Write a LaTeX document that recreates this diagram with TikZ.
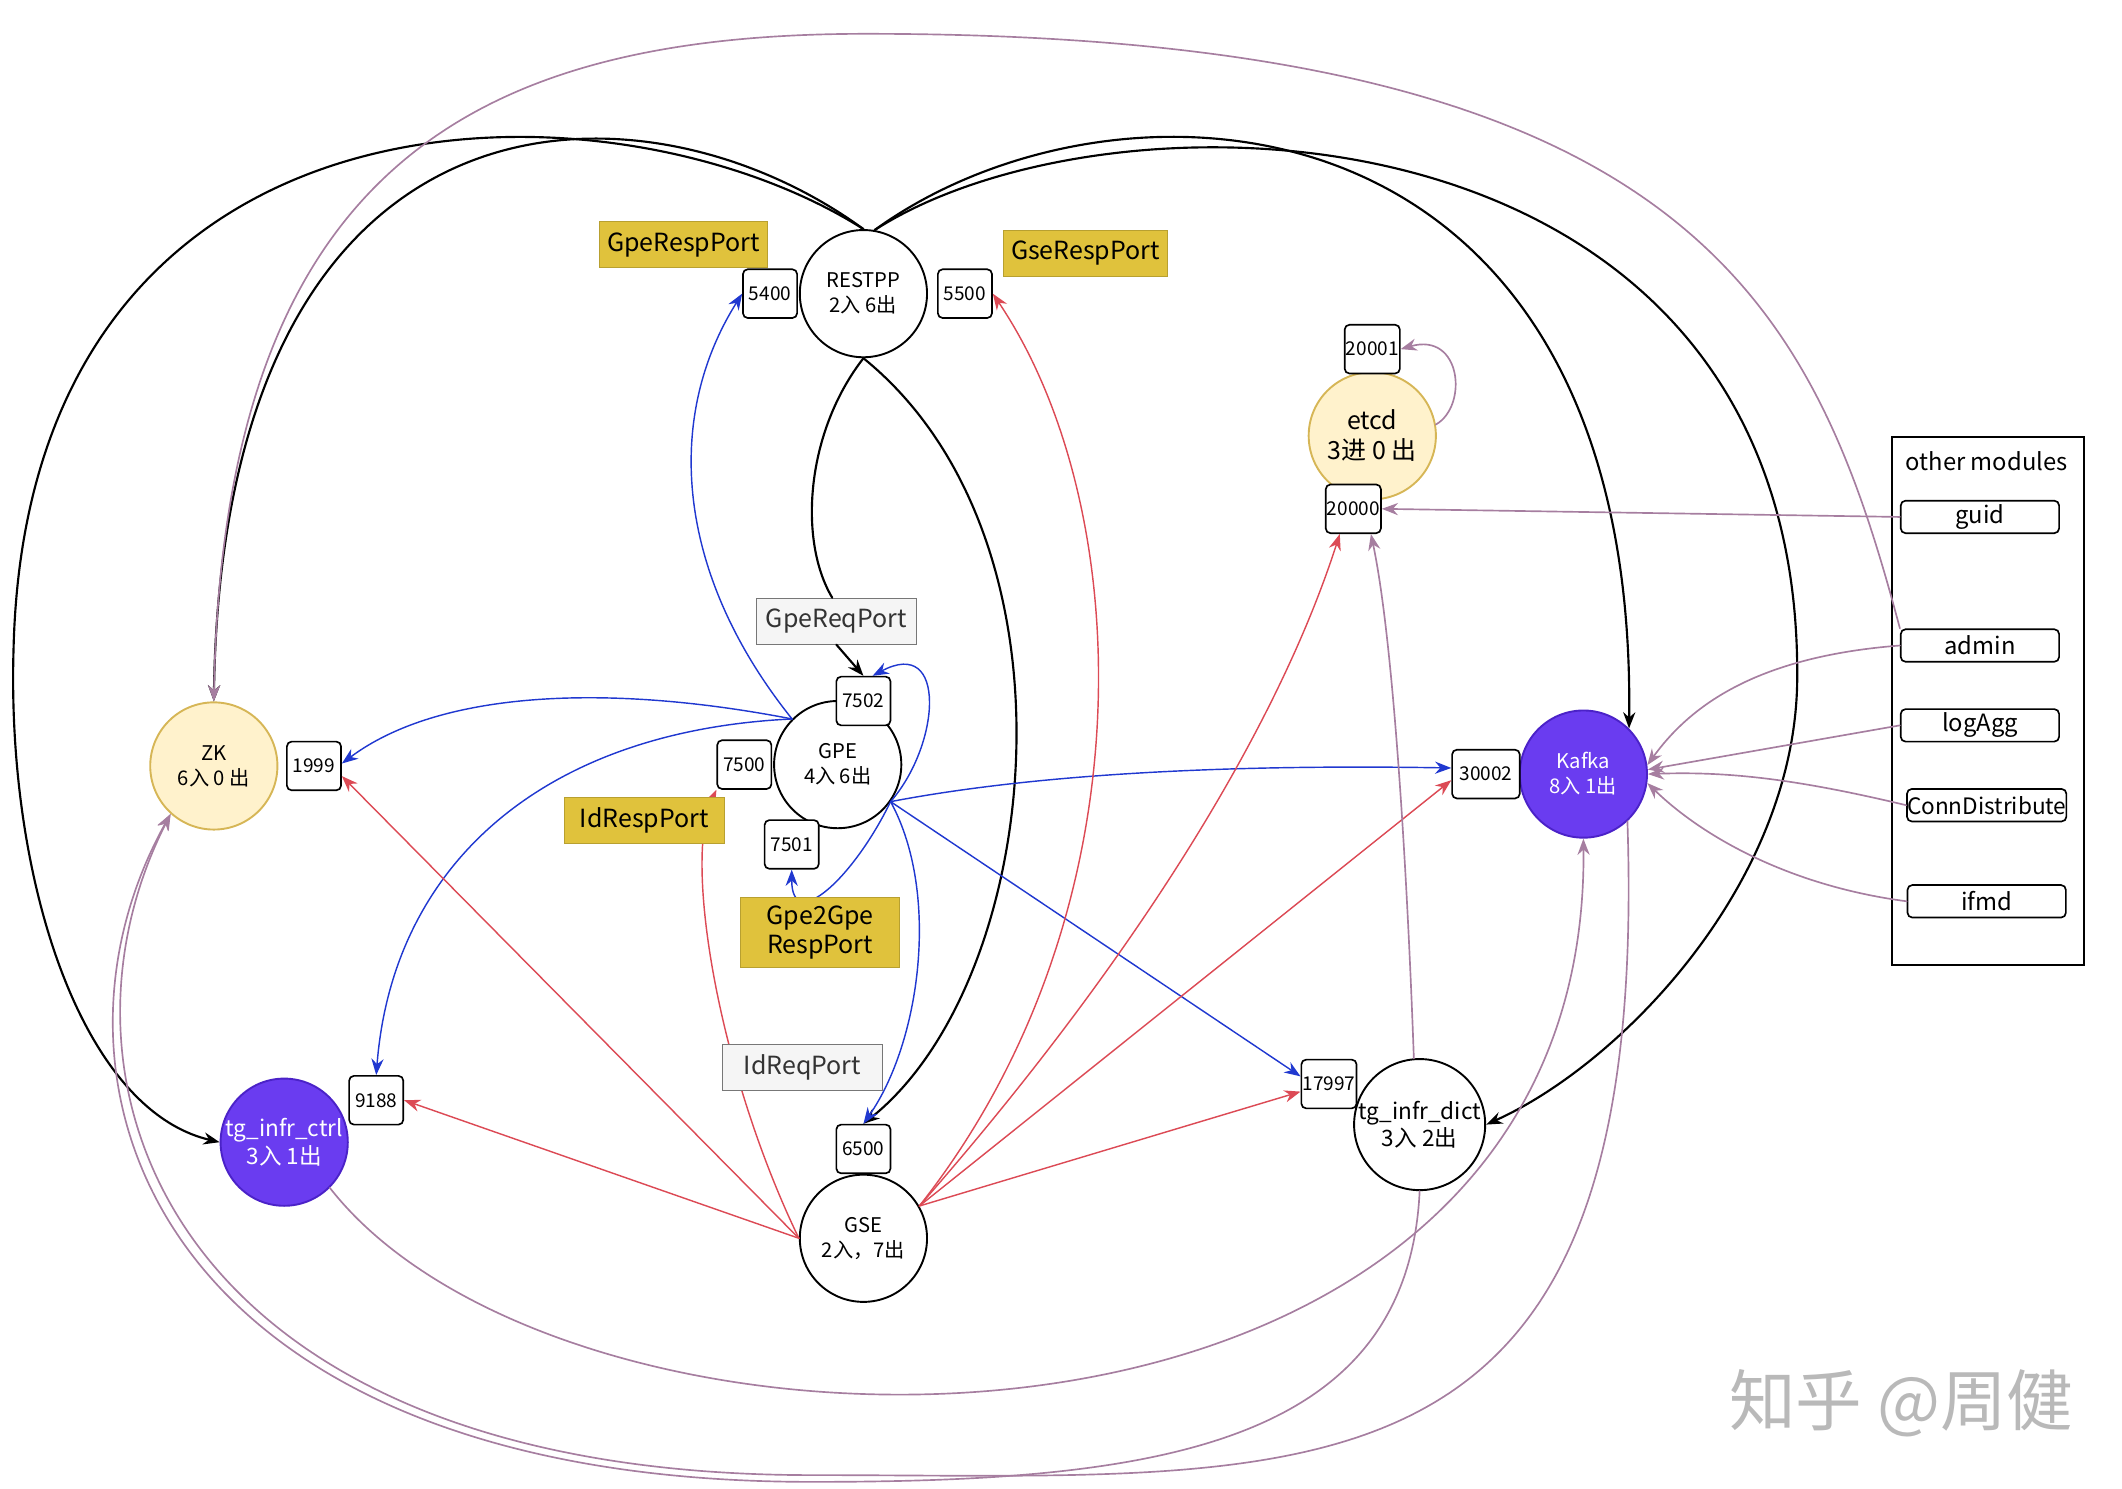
\documentclass[tikz,border=0pt]{standalone}
\usepackage{fontspec}
\setmainfont{Noto Sans CJK SC}
\usepackage{tikz}
\usetikzlibrary{arrows.meta}
\usepackage{xcolor}

\definecolor{zkfill}{HTML}{FFF2CC}
\definecolor{zkline}{HTML}{D6B656}
\definecolor{kpurple}{HTML}{6A3CF0}
\definecolor{kline}{HTML}{4B22C8}
\definecolor{gold}{HTML}{E0C23C}
\definecolor{goldline}{HTML}{B8A030}
\definecolor{reqfill}{HTML}{F5F5F5}
\definecolor{reqline}{HTML}{777777}
\definecolor{gpeblue}{HTML}{2038D0}
\definecolor{gsered}{HTML}{DC4A55}
\definecolor{modline}{HTML}{A67EA0}

\begin{document}
\begin{tikzpicture}[>={Stealth[length=2.4mm,width=1.8mm]},line cap=round,
  proc/.style={circle,draw,line width=0.8pt,fill=white,minimum size=1.88cm,inner sep=0pt,align=center,font=\fontsize{8.5}{10.5}\selectfont},
  store/.style={fill=zkfill,draw=zkline},
  hot/.style={fill=kpurple,draw=kline,text=white},
  port/.style={draw,rounded corners=2pt,fill=white,line width=0.7pt,minimum width=0.8cm,minimum height=0.72cm,inner sep=0.5pt,font=\fontsize{8}{9}\selectfont},
  resp/.style={draw=goldline,fill=gold,minimum width=2.36cm,minimum height=0.68cm,font=\fontsize{10.5}{12}\selectfont},
  req/.style={draw=reqline,fill=reqfill,text=black!80,minimum width=2.36cm,minimum height=0.68cm,font=\fontsize{10.5}{12}\selectfont},
  mod/.style={draw,rounded corners=2pt,line width=0.7pt,minimum width=2.34cm,minimum height=0.48cm,inner sep=0pt,font=\fontsize{10}{11}\selectfont},
  ctl/.style={->,line width=0.9pt},
  gpeflow/.style={->,draw=gpeblue,line width=0.6pt},
  gseflow/.style={->,draw=gsered,line width=0.6pt},
  modflow/.style={->,draw=modline,line width=0.7pt}]
\useasboundingbox (0,0) rectangle (31.36,22.0);

% processes
\node[proc] (restpp) at (12.76,17.66) {RESTPP\\2入 6出};
\node[proc] (gpe) at (12.38,10.70) {GPE\\4入 6出};
\node[proc] (gse) at (12.76,3.70) {GSE\\2入，7出};
\node[proc,store] (zk) at (3.16,10.68) {ZK\\6入 0 出};
\node[proc,store,font=\fontsize{10.5}{12.5}\selectfont] (etcd) at (20.28,15.56) {etcd\\3进 0 出};
\node[proc,hot] (kafka) at (23.40,10.56) {Kafka\\8入 1出};
\node[proc,hot,font=\fontsize{9.5}{11.5}\selectfont] (ctrl) at (4.20,5.12) {tg\_infr\_ctrl\\3入 1出};
\node[proc,font=\fontsize{9.5}{11.5}\selectfont] (dict) at (20.98,5.38) {tg\_infr\_dict\\3入 2出};

% ports
\node[port] (p5400) at (11.38,17.66) {5400};
\node[port] (p5500) at (14.26,17.66) {5500};
\node[port] (p20001) at (20.28,16.84) {20001};
\node[port] (p20000) at (20.00,14.48) {20000};
\node[port] (p7502) at (12.76,11.64) {7502};
\node[port] (p7500) at (11.00,10.70) {7500};
\node[port] (p7501) at (11.70,9.52) {7501};
\node[port] (p1999) at (4.64,10.68) {1999};
\node[port,minimum width=1cm] (p30002) at (21.96,10.56) {30002};
\node[port] (p9188) at (5.56,5.74) {9188};
\node[port] (p6500) at (12.76,5.02) {6500};
\node[port] (p17997) at (19.64,5.98) {17997};
\node[req] (gpereq) at (12.36,12.82) {GpeReqPort};

% other modules
\node[draw,line width=0.7pt,minimum width=2.84cm,minimum height=7.8cm] (others) at (29.38,11.64) {};
\node[font=\fontsize{10}{11}\selectfont] (otherstitle) at (29.36,15.18) {other modules};
\node[mod] (guid) at (29.26,14.36) {guid};
\node[mod] (admin) at (29.26,12.46) {admin};
\node[mod] (logagg) at (29.26,11.28) {logAgg};
\node[mod,font=\fontsize{9.5}{11}\selectfont] (conndist) at (29.36,10.10) {ConnDistribute};
\node[mod] (ifmd) at (29.36,8.68) {ifmd};

% RESTPP
\draw[ctl] (restpp.north) .. controls (9.0,21.0) and (0.4,21.0) .. (0.2,12.4) .. controls (0.1,9.0) and (1.2,5.6) .. (ctrl.west);
\draw[ctl] (restpp.north) .. controls (9.5,21.0) and (3.3,21.0) .. (zk.north);
\draw[ctl] (restpp.80) .. controls (16.5,21.2) and (24.2,20.8) .. (kafka.45);
\draw[ctl] (restpp.80) .. controls (16.5,20.9) and (26.6,20.6) .. (26.56,12.0) .. controls (26.56,9.0) and (24.0,6.3) .. (dict.east);
\draw[ctl,-] (restpp.south) .. controls (11.9,15.6) and (11.8,14.0) .. (gpereq.100);
\draw[ctl] (gpereq.south) -- (p7502.north);
\draw[ctl] (restpp.south) .. controls (16.1,14.0) and (15.4,7.5) .. (p6500.north);

% GPE
\coordinate (gpeout) at (gpe.-35);
\draw[gpeflow] (gpe.135) .. controls (10.0,13.5) and (9.8,15.8) .. (p5400.west);
\draw[gpeflow] (gpe.135) .. controls (9.0,11.9) and (6.5,11.8) .. (p1999.5);
\draw[gpeflow] (gpe.135) .. controls (8.0,11.2) and (5.8,9.2) .. (p9188.north);
\draw[gpeflow] (gpeout) .. controls (13.9,11.0) and (14.0,12.6) .. (p7502.70);
\draw[gpeflow] (gpeout) .. controls (12.6,9.0) and (11.7,8.2) .. (p7501.south);
\draw[gpeflow] (gpeout) .. controls (15.5,10.6) and (18.5,10.7) .. (p30002.170);
\draw[gpeflow] (gpeout) -- (p17997.165);
\draw[gpeflow] (gpeout) .. controls (13.9,8.8) and (13.6,6.6) .. (p6500.north);

% GSE
\draw[gseflow] (gse.west) -- (p9188.east);
\draw[gseflow] (gse.west) -- (p1999.-20);
\draw[gseflow] (gse.west) .. controls (10.6,6.2) and (10.1,9.3) .. (p7500.south west);
\draw[gseflow] (gse.30) .. controls (17.0,8.5) and (16.8,14.5) .. (p5500.east);
\draw[gseflow] (gse.30) .. controls (16.5,7.5) and (18.8,11.0) .. ([xshift=-0.2cm]p20000.south);
\draw[gseflow] (gse.30) -- (p30002.190);
\draw[gseflow] (gse.30) -- (p17997.195);

% other modules and the rest
\draw[modflow] (guid.west) -- (p20000.east);
\draw[modflow] (etcd.10) .. controls (21.7,16.0) and (21.6,17.1) .. (p20001.east);
\draw[modflow] (admin.north west) .. controls (26.8,17.5) and (25.0,21.5) .. (12.8,21.5) .. controls (7.0,21.5) and (3.3,19.5) .. (zk.north);
\draw[modflow] (admin.west) .. controls (26.0,12.3) and (25.0,11.6) .. (kafka.8);
\draw[modflow] (logagg.west) -- (kafka.4);
\draw[modflow] (conndist.west) .. controls (26.5,10.5) and (25.5,10.6) .. (kafka.0);
\draw[modflow] (ifmd.west) .. controls (26.5,8.9) and (25.2,9.6) .. (kafka.-8);
\draw[modflow] (dict.95) .. controls (20.8,9.0) and (20.6,12.5) .. ([xshift=0.26cm]p20000.south);
\draw[modflow] (ctrl.-45) .. controls (8.5,-0.2) and (23.5,-0.3) .. (kafka.south);
\draw[modflow] (kafka.-47) .. controls (24.4,-0.5) and (19.5,0.2) .. (12.0,0.2) .. controls (2.5,0.2) and (0.5,6.0) .. (zk.228);
\draw[modflow] (dict.south) .. controls (20.8,0.6) and (17.0,0.1) .. (12.0,0.1) .. controls (2.3,0.1) and (0.3,6.0) .. (zk.228);

% port labels
\node[resp] (gpersp) at (10.10,18.38) {GpeRespPort};
\node[resp] (gsersp) at (16.04,18.26) {GseRespPort};
\node[resp] (idrsp) at (9.52,9.88) {IdRespPort};
\node[resp,minimum height=0.94cm,align=center,font=\fontsize{10.5}{12.5}\selectfont] (g2g) at (12.12,8.22) {Gpe2Gpe\\RespPort};
\node[req] (idreq) at (11.86,6.22) {IdReqPort};

\node[text=gray!55,font=\fontsize{28}{30}\selectfont] (mark) at (28.10,1.26) {知乎 @周健};
\end{tikzpicture}
\end{document}
